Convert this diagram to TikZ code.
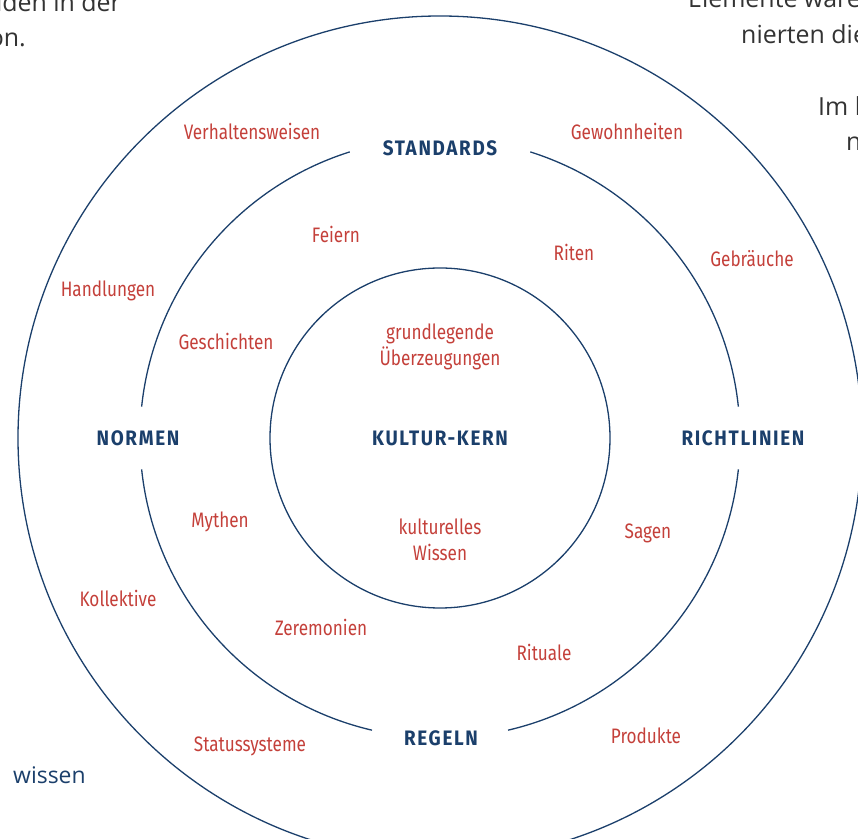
\documentclass[tikz,border=0pt]{standalone}
\usepackage{fontspec}
\setmainfont{Fira Sans}[FakeStretch=0.82]
\newfontfamily\kopffont{Fira Sans}[FakeStretch=0.9,LetterSpace=8]
\newfontfamily\seitenfont{Open Sans}
\definecolor{kernblau}{HTML}{1B3F6B}
\definecolor{kernrot}{HTML}{C4403A}
\definecolor{textgrau}{HTML}{333333}

\begin{document}
\begin{tikzpicture}[x=1bp,y=1bp]
    \tikzstyle{ring}=[draw=kernblau,line width=1.3bp]
    \tikzstyle{heading}=[text=kernblau,inner sep=0,font=\kopffont\bfseries\fontsize{21}{25}\selectfont]
    \tikzstyle{element}=[text=kernrot,inner sep=0,align=center,font=\fontsize{21}{26}\selectfont]
    \tikzstyle{seite}=[text=textgrau,inner sep=0,font=\seitenfont\fontsize{25}{30}\selectfont]
    \useasboundingbox (0,0) rectangle (858,839);
    \clip (0,0) rectangle (858,839);
    % Kreise
    \coordinate (mitte) at (440,401);
    \draw[ring] (mitte) circle[radius=170];
    \draw[ring] (mitte) circle[radius=422];
    \draw[ring] (mitte) ++(6:300) arc[start angle=6, end angle=72.5, radius=300];
    \draw[ring] (mitte) ++(107.5:300) arc[start angle=107.5, end angle=174, radius=300];
    \draw[ring] (mitte) ++(186:300) arc[start angle=186, end angle=256.9, radius=300];
    \draw[ring] (mitte) ++(283.1:300) arc[start angle=283.1, end angle=354, radius=300];
    % Oberbegriffe
    \node[heading] (kern) at (440,401) {KULTUR-KERN};
    \node[heading] (standards) at (440,691) {STANDARDS};
    \node[heading] (normen) at (138,401) {NORMEN};
    \node[heading] (richtlinien) at (743,401) {RICHTLINIEN};
    \node[heading] (regeln) at (441,101) {REGELN};
    % Elemente
    \node[element] (ueberzeugungen) at (440,492) {grundlegende\\\"Uberzeugungen};
    \node[element] (wissen) at (440,299) {kulturelles\\Wissen};
    \node[element] (verhalten) at (252,708) {Verhaltensweisen};
    \node[element] (gewohnheiten) at (627,708) {Gewohnheiten};
    \node[element] (feiern) at (336,605) {Feiern};
    \node[element] (riten) at (574,587) {Riten};
    \node[element] (gebraeuche) at (752,580) {Gebr\"auche};
    \node[element] (handlungen) at (108,548) {Handlungen};
    \node[element] (geschichten) at (226,498) {Geschichten};
    \node[element] (mythen) at (220,317) {Mythen};
    \node[element] (sagen) at (648,306) {Sagen};
    \node[element] (kollektive) at (118,241) {Kollektive};
    \node[element] (zeremonien) at (321,212) {Zeremonien};
    \node[element] (rituale) at (544,187) {Rituale};
    \node[element] (status) at (250,93) {Statussysteme};
    \node[element] (produkte) at (646,103) {Produkte};
    % Reste des Seitentextes
    \node[seite,anchor=base east] (links1) at (121,827) {iden in der};
    \node[seite,anchor=base east] (links2) at (26,792) {on.};
    \node[seite,anchor=base west] (rechts1) at (688,831) {Elemente w\"are};
    \node[seite,anchor=base west] (rechts2) at (741,795) {nierten die};
    \node[seite,anchor=base west] (rechts3) at (818,723) {Im l};
    \node[seite,anchor=base west] (rechts4) at (846,688) {n};
    \node[seite,anchor=base west,text=kernblau,font=\seitenfont\fontsize{23}{28}\selectfont] (marke) at (13,55) {wissen};
\end{tikzpicture}
\end{document}
